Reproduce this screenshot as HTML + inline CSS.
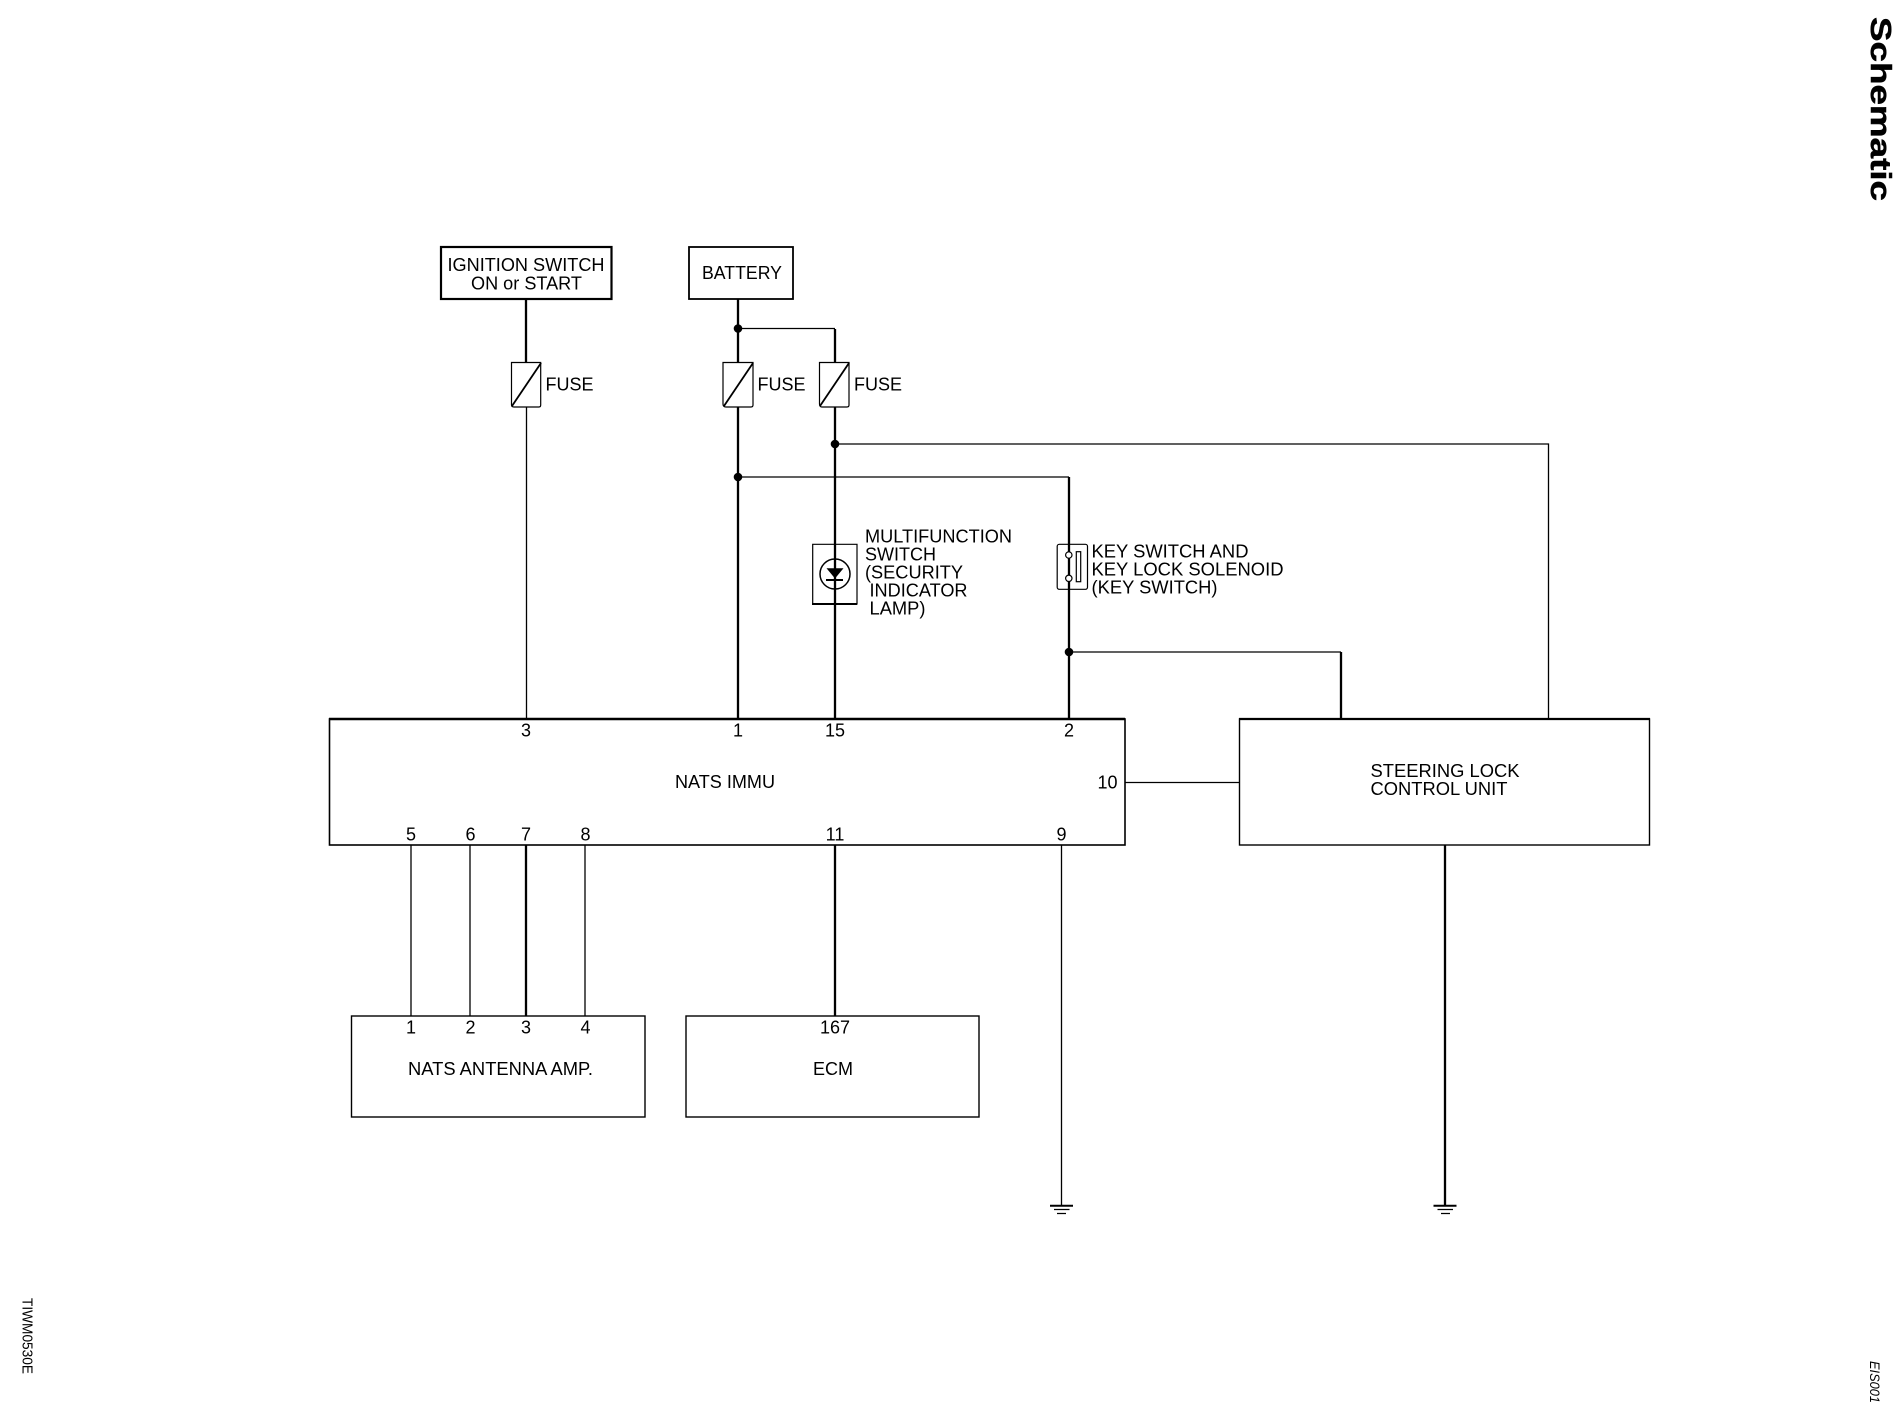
<!DOCTYPE html>
<html><head><meta charset="utf-8"><title>Schematic</title>
<style>html,body{margin:0;padding:0;background:#fff}svg{display:block}text{font-family:"Liberation Sans",Arial,sans-serif;fill:#000;font-size:18px}</style>
</head><body>
<svg width="1900" height="1408" viewBox="0 0 1900 1408" xmlns="http://www.w3.org/2000/svg">
<g fill="none" stroke="#000" stroke-width="1.4">
<!-- boxes -->
<rect x="441" y="247" width="170.500" height="52" stroke-width="2.2"/>
<rect x="689" y="247" width="104" height="52" stroke-width="1.800"/>
<rect x="329.500" y="719" width="795.500" height="126" stroke-width="1.600"/>
<path d="M329 719H1125" stroke-width="2.400"/>
<rect x="1239.500" y="719" width="410" height="126" stroke-width="1.400"/>
<path d="M1239 719H1650" stroke-width="2.200"/>
<rect x="351.500" y="1016" width="293.500" height="101"/>
<rect x="686" y="1016" width="293" height="101"/>
<!-- thick wires -->
<g stroke-width="2.300">
<path d="M526 299V362"/>
<path d="M738 299V362M738 407V719"/>
<path d="M835 329V362M835 407V719"/>
<path d="M1069 477V719"/>
<path d="M1341 652V719"/>
<path d="M526 845V1016"/>
<path d="M835 845V1016"/>
<path d="M1445 845V1205"/>
</g>
<!-- thin wires -->
<g stroke-width="1.300">
<path d="M526.500 407V719"/>
<path d="M738 328.500H835"/>
<path d="M835 444H1548.500V719"/>
<path d="M738 477H1069"/>
<path d="M1069 652H1341"/>
<path d="M1125 782.500H1239.500"/>
<path d="M411 845V1016"/>
<path d="M470 845V1016"/>
<path d="M585 845V1016"/>
<path d="M1061.500 845V1205"/>
</g>
<!-- fuses -->
<g stroke-width="1.200">
<path d="M511.500 362.500H540.700V405Q540.700 407 539 407H514Q511.500 407 511.500 405Z"/>
<path d="M723 362.500H753V405Q753 407 751 407H726Q723 407 723 404Z"/>
<path d="M819.500 362.500H849V405Q849 407 847 407H822Q819.500 407 819.500 404Z"/>
</g>
<g stroke-width="1.800">
<path d="M512 406L541 363"/>
<path d="M724 406L753 363"/>
<path d="M820 406L849 363"/>
</g>
<!-- lamp -->
<path d="M812.700 544.300H857V604H812.700Z" stroke-width="1.200"/>
<path d="M812 604H857" stroke-width="2"/>
<circle cx="835" cy="574" r="15" stroke-width="1.500"/>
<path d="M826 580H843" stroke-width="2"/>
<!-- key switch -->
<rect x="1057.200" y="544.300" width="30.300" height="45" rx="2" stroke-width="1.200"/>
<rect x="1076.300" y="551.700" width="4.400" height="30" stroke-width="1.200"/>
<!-- grounds -->
<path d="M1050 1205.700H1073M1433.500 1205.700H1456.500" stroke-width="2"/>
<path d="M1054 1209.500H1069.500M1437.500 1209.500H1453" stroke-width="1.200"/>
<path d="M1057 1213.500H1066M1441 1213.500H1450" stroke-width="1.200"/>
</g>
<path d="M826.500 568.300H843.500L835 578.500Z" fill="#000"/>
<circle cx="1068.800" cy="555" r="3.200" fill="#fff" stroke="#000" stroke-width="1.200"/>
<circle cx="1068.800" cy="578.300" r="3.200" fill="#fff" stroke="#000" stroke-width="1.200"/>
<!-- junction dots -->
<g fill="#000">
<circle cx="738" cy="328.500" r="4.300"/>
<circle cx="835" cy="444" r="4.300"/>
<circle cx="738" cy="477" r="4.300"/>
<circle cx="1069" cy="652" r="4.300"/>
</g>
<!-- labels -->
<g>
<text x="447.500" y="271" textLength="157" lengthAdjust="spacingAndGlyphs">IGNITION SWITCH</text>
<text x="471" y="289.500" textLength="111" lengthAdjust="spacingAndGlyphs">ON or START</text>
<text x="702" y="279" textLength="80" lengthAdjust="spacingAndGlyphs">BATTERY</text>
<text x="545.500" y="390.500" textLength="48" lengthAdjust="spacingAndGlyphs">FUSE</text>
<text x="757.500" y="390.500" textLength="48" lengthAdjust="spacingAndGlyphs">FUSE</text>
<text x="854" y="390.500" textLength="48" lengthAdjust="spacingAndGlyphs">FUSE</text>
<text x="865" y="542.500" textLength="147" lengthAdjust="spacingAndGlyphs">MULTIFUNCTION</text>
<text x="865" y="560.500" textLength="71" lengthAdjust="spacingAndGlyphs">SWITCH</text>
<text x="865" y="578.500" textLength="98" lengthAdjust="spacingAndGlyphs">(SECURITY</text>
<text x="869.500" y="596.500" textLength="98" lengthAdjust="spacingAndGlyphs">INDICATOR</text>
<text x="869.500" y="614.500" textLength="56" lengthAdjust="spacingAndGlyphs">LAMP)</text>
<text x="1091.500" y="557.500" textLength="157" lengthAdjust="spacingAndGlyphs">KEY SWITCH AND</text>
<text x="1091.500" y="575.500" textLength="192" lengthAdjust="spacingAndGlyphs">KEY LOCK SOLENOID</text>
<text x="1091.500" y="593.500" textLength="126" lengthAdjust="spacingAndGlyphs">(KEY SWITCH)</text>
<text x="675" y="788" textLength="100" lengthAdjust="spacingAndGlyphs">NATS IMMU</text>
<text x="1370.500" y="777" textLength="149" lengthAdjust="spacingAndGlyphs">STEERING LOCK</text>
<text x="1370.500" y="795" textLength="137" lengthAdjust="spacingAndGlyphs">CONTROL UNIT</text>
<text x="408" y="1075" textLength="185" lengthAdjust="spacingAndGlyphs">NATS ANTENNA AMP.</text>
<text x="813" y="1075" textLength="40" lengthAdjust="spacingAndGlyphs">ECM</text>
</g>
<g text-anchor="middle">
<text x="526" y="736.500">3</text>
<text x="738" y="736.500">1</text>
<text x="835" y="736.500">15</text>
<text x="1069" y="736.500">2</text>
<text x="411" y="840.500">5</text>
<text x="470.500" y="840.500">6</text>
<text x="526" y="840.500">7</text>
<text x="585.500" y="840.500">8</text>
<text x="835" y="840.500">11</text>
<text x="1061.500" y="840.500">9</text>
<text x="1107.500" y="788.500">10</text>
<text x="411" y="1033.500">1</text>
<text x="470.500" y="1033.500">2</text>
<text x="526" y="1033.500">3</text>
<text x="585.500" y="1033.500">4</text>
<text x="835" y="1033.500">167</text>
</g>
<!-- rotated margin text -->
<text transform="translate(1871,17) rotate(90)" style="font-size:29px;font-weight:bold;stroke:#000;stroke-width:.5px" textLength="184" lengthAdjust="spacingAndGlyphs">Schematic</text>
<text transform="translate(1870,1361) rotate(90)" style="font-size:13.500px;font-style:italic" textLength="42" lengthAdjust="spacingAndGlyphs">EIS001</text>
<text transform="translate(22.500,1298) rotate(90)" style="font-size:14.500px" textLength="76" lengthAdjust="spacingAndGlyphs">TIWM0530E</text>
</svg>
</body></html>
